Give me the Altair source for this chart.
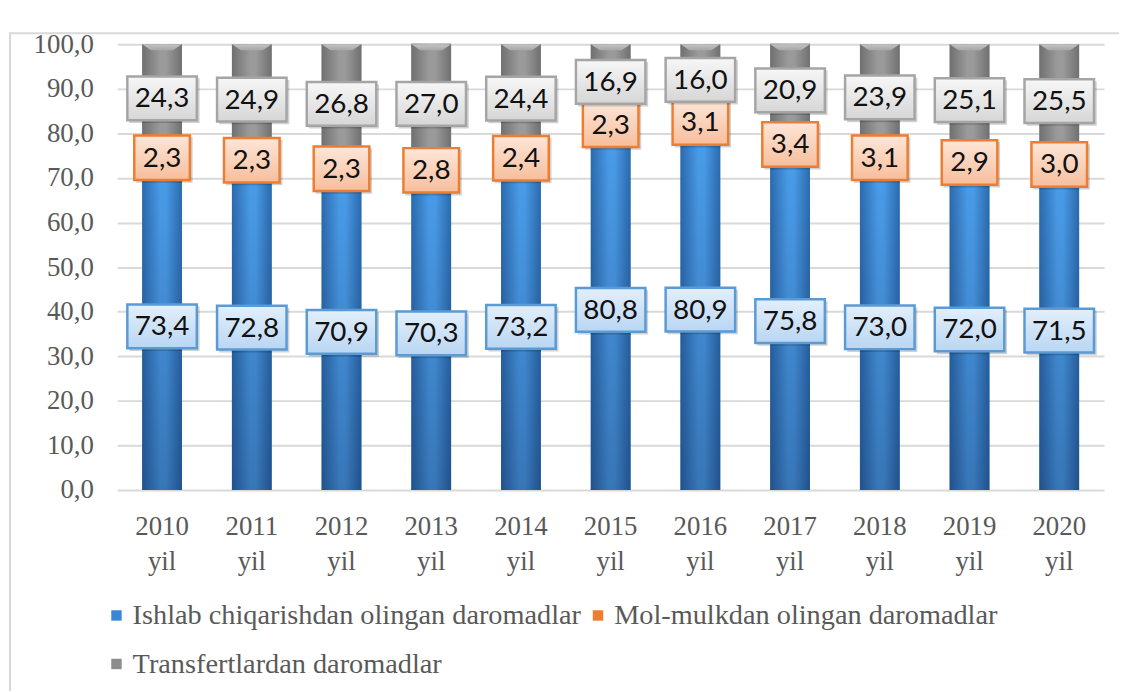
import altair as alt
import pandas as pd

years = ["2010 yil", "2011 yil", "2012 yil", "2013 yil", "2014 yil", "2015 yil",
         "2016 yil", "2017 yil", "2018 yil", "2019 yil", "2020 yil"]
ishlab = [73.4, 72.8, 70.9, 70.3, 73.2, 80.8, 80.9, 75.8, 73.0, 72.0, 71.5]
mol = [2.3, 2.3, 2.3, 2.8, 2.4, 2.3, 3.1, 3.4, 3.1, 2.9, 3.0]
transfert = [24.3, 24.9, 26.8, 27.0, 24.4, 16.9, 16.0, 20.9, 23.9, 25.1, 25.5]
series_names = ["Ishlab chiqarishdan olingan daromadlar",
                "Mol-mulkdan olingan daromadlar",
                "Transfertlardan daromadlar"]
series_colors = ["#3A87D6", "#ED7D31", "#8C8C8C"]

rows = []
for i, y in enumerate(years):
    base = 0.0
    for s, vals in zip(series_names, [ishlab, mol, transfert]):
        v = vals[i]
        rows.append({"year": y, "series": s, "value": v, "y0": base, "y1": base + v,
                     "mid": base + v / 2, "label": f"{v:.1f}".replace(".", ",")})
        base += v
df = pd.DataFrame(rows)
cap_df = pd.DataFrame({"year": years, "top": [100] * len(years)})

W, H = 994, 449
xenc = alt.X("year:N", sort=years, title=None,
             scale=alt.Scale(paddingInner=0, paddingOuter=0),
             axis=alt.Axis(labelExpr="split(datum.value, ' ')", labelAngle=0,
                           labelFont="Liberation Serif", labelFontSize=27,
                           labelColor="#595959", labelPadding=24, labelLineHeight=35,
                           ticks=False, domain=False, grid=False))
yscale = alt.Scale(domain=[0, 100], nice=False)


def hgrad(edge, center):
    return alt.Gradient(gradient="linear", x1=0, x2=1, y1=0, y2=0,
                        stops=[alt.GradientStop(color=edge, offset=0),
                               alt.GradientStop(color=center, offset=0.45),
                               alt.GradientStop(color=center, offset=0.6),
                               alt.GradientStop(color=edge, offset=1)])


def vgrad(top, bottom):
    return alt.Gradient(gradient="linear", x1=0, x2=0, y1=0, y2=1,
                        stops=[alt.GradientStop(color=top, offset=0),
                               alt.GradientStop(color=bottom, offset=1)])


border = alt.Chart(cap_df.head(1)).mark_rect(filled=False, stroke="#d9d9d9", strokeWidth=2).encode(
    x=alt.value(-108), x2=alt.value(W + 60), y=alt.value(-11), y2=alt.value(H + 260))

base_bars = alt.Chart(df).mark_bar(size=40).encode(
    x=xenc,
    y=alt.Y("y0:Q", scale=yscale, title=None,
            axis=alt.Axis(values=list(range(0, 101, 10)),
                          labelExpr="replace(format(datum.value, '.1f'), '.', ',')",
                          labelFont="Liberation Serif", labelFontSize=27, labelColor="#595959",
                          labelPadding=24, ticks=False, domain=False,
                          gridColor="#d9d9d9", gridWidth=2)),
    y2="y1:Q",
    color=alt.Color("series:N", sort=series_names,
                    scale=alt.Scale(domain=series_names, range=series_colors),
                    legend=alt.Legend(title=None, orient="none", legendX=-15, legendY=561,
                                      columns=2, columnPadding=2, rowPadding=20,
                                      labelFont="Liberation Serif", labelFontSize=28.5,
                                      labelColor="#595959", symbolType="square",
                                      symbolSize=110, symbolStrokeWidth=0, labelLimit=0,
                                      labelOffset=2, direction="horizontal")))

grads = {
    series_names[0]: hgrad("#2C6CB0", "#4A9DEA"),
    series_names[1]: hgrad("#C55A11", "#F4A46E"),
    series_names[2]: hgrad("#707070", "#9A9A9A"),
}
overlays = []
for s in series_names:
    overlays.append(alt.Chart(df).transform_filter(alt.datum.series == s).mark_bar(
        size=40, fill=grads[s]).encode(x=xenc, y=alt.Y("y0:Q", scale=yscale), y2="y1:Q"))
# darker lower part on the blue segment
overlays.append(alt.Chart(df).transform_filter(alt.datum.series == series_names[0]).mark_bar(
    size=40, fill=vgrad("rgba(0,0,30,0)", "rgba(0,0,30,0.25)")).encode(
    x=xenc, y=alt.Y("y0:Q", scale=yscale), y2="y1:Q"))

cap = alt.Chart(cap_df).mark_point(
    shape="M-1,0L1,0L0.55,0.3L-0.55,0.3Z", size=1600, filled=True, opacity=1,
    fill=vgrad("#c4c4c4", "#a8a8a8"), strokeWidth=0).encode(
    x=xenc, y=alt.Y("top:Q", scale=yscale))

box_style = {
    series_names[0]: dict(shape="M-1,-0.629L1,-0.629L1,0.629L-1,0.629Z",
                          shadow="M-0.94,-0.57L1.08,-0.57L1.08,0.71L-0.94,0.71Z", size=4900,
                          fill=vgrad("#E3EFFB", "#B9D6F3"), stroke="#5B9BD5"),
    series_names[1]: dict(shape="M-1,-0.8L1,-0.8L1,0.8L-1,0.8Z",
                          shadow="M-0.93,-0.73L1.1,-0.73L1.1,0.9L-0.93,0.9Z", size=3136,
                          fill=vgrad("#FDE6D8", "#F7BE9C"), stroke="#ED7D31"),
    series_names[2]: dict(shape="M-1,-0.629L1,-0.629L1,0.629L-1,0.629Z",
                          shadow="M-0.94,-0.57L1.08,-0.57L1.08,0.71L-0.94,0.71Z", size=4900,
                          fill=vgrad("#F7F7F7", "#D6D6D6"), stroke="#A5A5A5"),
}
boxes = []
for s in series_names:
    st = box_style[s]
    boxes.append(alt.Chart(df).transform_filter(alt.datum.series == s).mark_point(
        shape=st["shadow"], size=st["size"], filled=True, color="#000000", opacity=0.18,
        strokeWidth=0).encode(x=xenc, y=alt.Y("mid:Q", scale=yscale)))
    boxes.append(alt.Chart(df).transform_filter(alt.datum.series == s).mark_point(
        shape=st["shape"], size=st["size"], filled=True, fill=st["fill"], stroke=st["stroke"],
        strokeWidth=2.5, opacity=1, fillOpacity=1, strokeOpacity=1).encode(
        x=xenc, y=alt.Y("mid:Q", scale=yscale)))

labels = alt.Chart(df).mark_text(font="Lato", fontSize=28, color="#111111", baseline="middle",
                                 dy=1).encode(
    x=xenc, y=alt.Y("mid:Q", scale=yscale), text="label:N")

chart = alt.layer(border, base_bars, *overlays, cap, *boxes, labels).properties(
    width=W, height=H, padding={"left": 110, "top": 34, "right": 15, "bottom": 200},
    autosize=alt.AutoSizeParams(type="none")
).configure_view(strokeWidth=0).configure_axis(gridColor="#d9d9d9")

chart.save("out.html", embed_options={"renderer": "svg", "actions": False})
